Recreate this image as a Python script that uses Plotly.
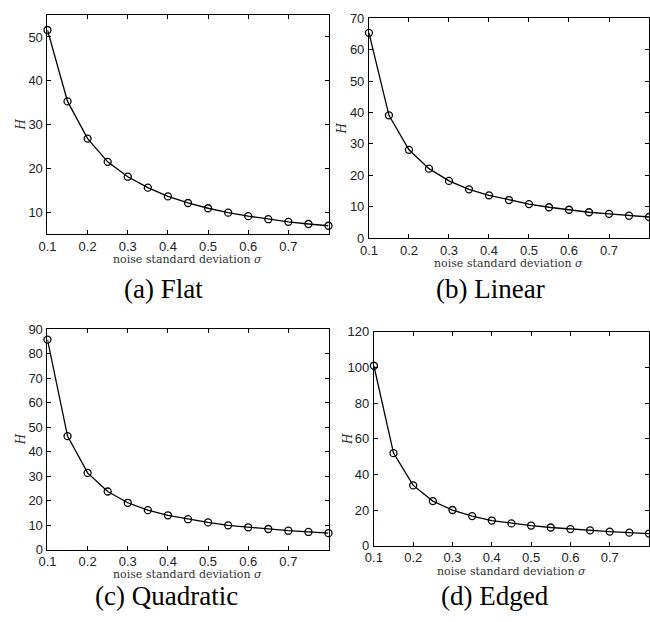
import plotly.graph_objects as go

sigma = [0.1, 0.15, 0.2, 0.25, 0.3, 0.35, 0.4, 0.45, 0.5, 0.55, 0.6, 0.65, 0.7, 0.75, 0.8]
H_flat = [51.6, 35.3, 26.8, 21.5, 18.1, 15.6, 13.6, 12.1, 10.9, 9.9, 9.1, 8.4, 7.8, 7.3, 6.9]
H_linear = [65.4, 39.1, 28.1, 22.1, 18.2, 15.5, 13.6, 12.1, 10.8, 9.8, 9.0, 8.2, 7.7, 7.1, 6.7]
H_quadratic = [85.7, 46.3, 31.3, 23.7, 19.1, 16.1, 14.0, 12.4, 11.1, 9.9, 9.1, 8.4, 7.7, 7.2, 6.7]
H_edged = [100.9, 51.9, 33.8, 25.0, 20.0, 16.6, 14.1, 12.5, 11.3, 10.2, 9.3, 8.6, 7.9, 7.3, 6.8]

titles = ["(a) Flat", "(b) Linear", "(c) Quadratic", "(d) Edged"]
series = [H_flat, H_linear, H_quadratic, H_edged]
y_ranges = [[5, 55], [0, 70], [0, 90], [0, 120]]
y_ticks = [[10, 20, 30, 40, 50], [0, 10, 20, 30, 40, 50, 60, 70],
           [0, 10, 20, 30, 40, 50, 60, 70, 80, 90], [0, 20, 40, 60, 80, 100, 120]]
x_ticks = [0.1, 0.2, 0.3, 0.4, 0.5, 0.6, 0.7]
x_label = "noise standard deviation <i>σ</i>"
y_label = "<i>H</i>"

W, Hh = 650, 622
# pixel boxes: left, right, top, bottom
boxes = [(39, 324, 8.3, 232.7), (365, 649, 11.7, 236.7),
         (39, 324, 330, 556), (370, 649, 332.7, 552)]
title_pos = [(157, 289), (488, 289), (160, 604), (493, 604)]

fig = go.Figure()
layout = dict(width=W, height=Hh, margin=dict(l=0, r=0, t=0, b=0),
              paper_bgcolor="white", plot_bgcolor="white", showlegend=False)
annotations = []
tickfont = dict(family="Liberation Sans, Arial, sans-serif", size=13, color="#222")
for i in range(4):
    l, r, t, b = boxes[i]
    xa = "xaxis" if i == 0 else f"xaxis{i+1}"
    ya = "yaxis" if i == 0 else f"yaxis{i+1}"
    xr = "x" if i == 0 else f"x{i+1}"
    yr = "y" if i == 0 else f"y{i+1}"
    fig.add_trace(go.Scatter(x=sigma, y=series[i], mode="lines+markers", xaxis=xr, yaxis=yr,
                             line=dict(color="black", width=1.3),
                             marker=dict(symbol="circle-open", size=7, color="black",
                                         line=dict(width=1.3, color="black")),
                             cliponaxis=False))
    common = dict(showline=True, linecolor="black", linewidth=1, mirror="ticks",
                  ticks="inside", ticklen=4, tickcolor="black", showgrid=False,
                  zeroline=False, tickfont=tickfont)
    layout[xa] = dict(domain=[l / W, r / W], range=[0.1, 0.8], tickvals=x_ticks,
                      ticktext=[f"{v:.1f}" for v in x_ticks], anchor=yr,
                      ticklabelstandoff=0, **common)
    layout[ya] = dict(domain=[1 - b / Hh, 1 - t / Hh], range=y_ranges[i], tickvals=y_ticks[i],
                      anchor=xr, ticklabelstandoff=1, **common)
    cx = (l + r) / 2
    annotations.append(dict(x=cx / W, y=1 - (b + 26) / Hh, xref="paper", yref="paper",
                            text=x_label, showarrow=False, xanchor="center", yanchor="middle",
                            font=dict(family="DejaVu Serif, serif", size=11, color="#333")))
    annotations.append(dict(x=(l - 27) / W, y=1 - ((t + b) / 2) / Hh, xref="paper", yref="paper",
                            text=y_label, showarrow=False, textangle=-90,
                            xanchor="center", yanchor="middle",
                            font=dict(family="DejaVu Serif, serif", size=12, color="#333")))
    tx, ty = title_pos[i]
    annotations.append(dict(x=tx / W, y=1 - ty / Hh, xref="paper", yref="paper",
                            text=titles[i], showarrow=False, xanchor="center", yanchor="middle",
                            font=dict(family="Liberation Serif, Times New Roman, serif", size=27,
                                      color="black")))
layout["annotations"] = annotations
fig.update_layout(**layout)
fig.write_html("out.html", config={"displayModeBar": False},
               post_script="document.body.style.margin='0';"
                           "document.body.style.overflow='hidden';"
                           "document.documentElement.style.overflow='hidden';")
